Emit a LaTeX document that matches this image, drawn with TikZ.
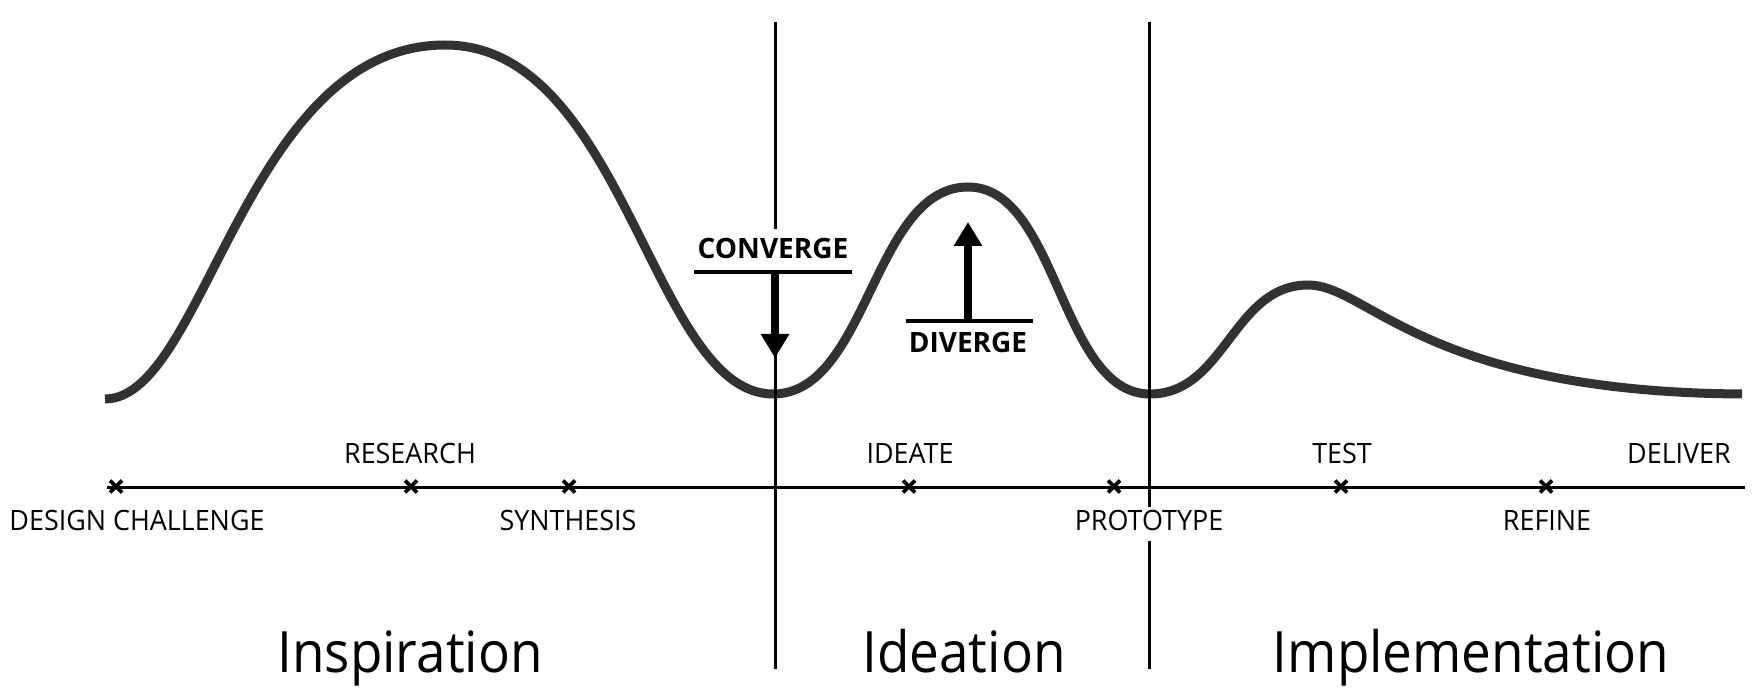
\documentclass[tikz,border=0pt]{standalone}
\usepackage{fontspec}
\setmainfont{Open Sans}
\newfontfamily\lblfont[FakeStretch=0.96]{Open Sans}
\newfontfamily\phasefont[FakeStretch=0.93]{Open Sans}
\newfontfamily\boldfont{Open Sans Bold}
\usetikzlibrary{arrows.meta}
\definecolor{curvegray}{RGB}{50,50,50}
\begin{document}
\begin{tikzpicture}[x=1pt,y=-1pt,
  curve/.style={line width=9pt, draw=curvegray, line cap=butt},
  divider/.style={line width=3pt, draw=black},
  axisline/.style={line width=3pt, draw=black},
  bar/.style={line width=4.5pt, draw=black},
  bigarrow/.style={line width=8pt, draw=black, -{Triangle[width=27pt,length=24pt]}},
  xmark/.style={line width=3.6pt, draw=black},
  lbl/.style={inner sep=0pt, anchor=base, font=\lblfont\fontsize{28}{30}\selectfont},
  blbl/.style={inner sep=0pt, anchor=base, font=\boldfont\fontsize{28}{30}\selectfont},
  phase/.style={inner sep=0pt, anchor=base, font=\phasefont\fontsize{57}{60}\selectfont}]
\useasboundingbox (0,0) rectangle (1764,692);

% curve
\draw[curve] (105,399) .. controls (205,399) and (245,45) .. (445,45)
  .. controls (625,45) and (652,394) .. (773,394)
  .. controls (868,394) and (873,187) .. (968,187)
  .. controls (1058,187) and (1060,394) .. (1150,394)
  .. controls (1225,394) and (1233,285) .. (1308,285)
  .. controls (1368,285) and (1424,392) .. (1742,394);

% coordinates
\coordinate (d1top) at (775,22);
\coordinate (d1mid) at (775,229);
\coordinate (d1low) at (775,272);
\coordinate (d1bot) at (775,669);
\coordinate (d2top) at (1149,22);
\coordinate (d2bot) at (1149,669);
\coordinate (axL) at (107,487);
\coordinate (axR) at (1745,487);
\coordinate (cbarL) at (694,272);
\coordinate (cbarR) at (852,272);
\coordinate (ctip) at (775,358);
\coordinate (dbarL) at (906,321);
\coordinate (dbarR) at (1033,321);
\coordinate (dtip) at (968,222);

% dividers
\draw[divider] (d1top) -- (d1mid);
\draw[divider] (d1low) -- (d1bot);
\draw[divider] (d2top) -- (d2bot);

% axis
\draw[axisline] (axL) -- (axR);
\foreach \xx in {116,411,569,909,1114,1341,1546}{
  \draw[xmark] (\xx-6,480.5) -- (\xx+6,492.5);
  \draw[xmark] (\xx-6,492.5) -- (\xx+6,480.5);
}

% converge / diverge
\node[blbl] (conv) at (773,259) {CONVERGE};
\draw[bar] (cbarL) -- (cbarR);
\draw[bigarrow] (775,270) -- (ctip);
\draw[bar] (dbarL) -- (dbarR);
\draw[bigarrow] (968,323) -- (dtip);
\node[blbl] (div) at (968,353) {DIVERGE};

% step labels
\node[lbl] (research) at (410,463) {RESEARCH};
\node[lbl] (ideate) at (910,463) {IDEATE};
\node[lbl] (test) at (1342,463) {TEST};
\node[lbl] (deliver) at (1679,463) {DELIVER};
\node[lbl] (design) at (137,530) {DESIGN CHALLENGE};
\node[lbl] (synth) at (568,530) {SYNTHESIS};
\node[lbl, fill=white, inner sep=3pt, text depth=8pt] (proto) at (1149,530) {PROTOTYPE};
\node[lbl] (refine) at (1547,530) {REFINE};

% phases
\node[phase] (insp) at (410,672) {Inspiration};
\node[phase] (idea) at (964,672) {Ideation};
\node[phase] (impl) at (1471,672) {Implementation};
\end{tikzpicture}
\end{document}
